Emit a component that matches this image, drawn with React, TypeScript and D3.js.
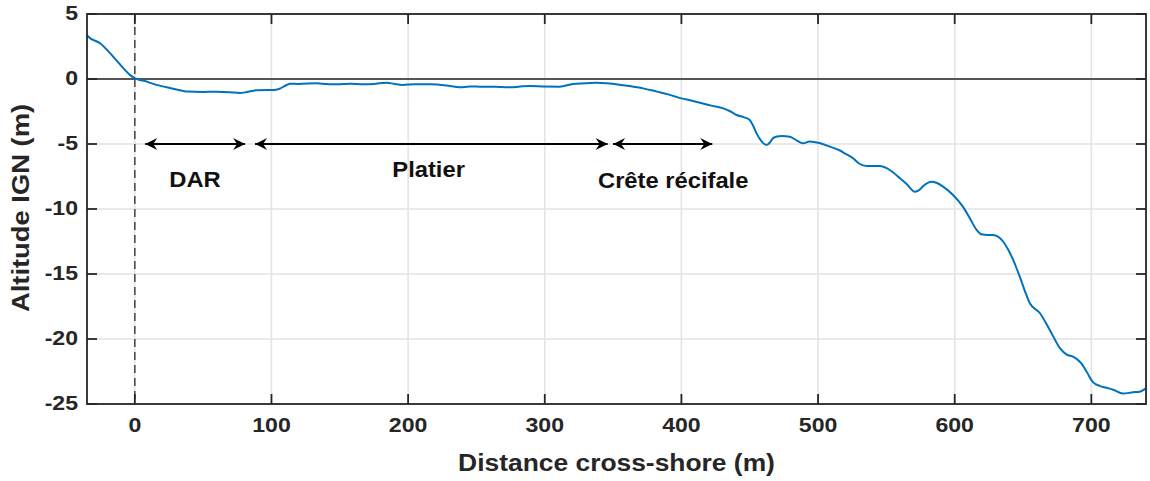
import * as d3 from "d3";

// profile: distance (m) and altitude (m)
const distance = [
  -35, -34, -25.4, -15.7, -8.3, -3.4, -1, 2, 8.8, 11.2, 23.4, 35.5, 38, 50, 60, 69.7, 77, 82, 86.8, 89, 101,
  106, 111, 113.6, 120, 133, 140, 148, 158, 167, 175, 184, 190, 196, 205, 216, 228, 238, 245, 252.6, 263,
  274.5, 282, 289, 300, 311, 320.6, 330, 338, 345, 352, 362, 372, 382, 391, 400, 407, 413.5, 422, 430.6,
  436, 440.4, 446, 450, 452.5, 455, 458, 462.3, 465, 467, 470, 473.3, 479.4, 484, 489, 494, 501, 508.6,
  516, 520, 525.7, 530, 535.5, 545, 552.5, 560, 565, 570.8, 574, 577, 583, 587, 591.5, 598.8, 606, 611,
  616, 619.6, 624, 628, 635.4, 639, 642.7, 647.6, 651, 655, 662.3, 669.6, 677, 682, 686.6, 692.7, 697,
  701, 706, 711, 716, 723, 730.5, 735.4, 740,
];
const altitude = [
  3.4, 3.25, 2.75, 1.7, 0.82, 0.3, 0.13, -0.02, -0.2, -0.3, -0.64, -0.92, -0.97, -1.0, -0.98, -1.02, -1.08,
  -1.0, -0.9, -0.86, -0.85, -0.75, -0.46, -0.36, -0.38, -0.33, -0.38, -0.41, -0.36, -0.41, -0.38, -0.28,
  -0.38, -0.46, -0.4, -0.41, -0.5, -0.64, -0.58, -0.59, -0.6, -0.64, -0.58, -0.54, -0.58, -0.59, -0.38,
  -0.33, -0.28, -0.32, -0.4, -0.54, -0.72, -0.97, -1.2, -1.49, -1.65, -1.82, -2.05, -2.26, -2.5, -2.77,
  -2.95, -3.15, -3.6, -4.18, -4.7, -5.08, -4.85, -4.56, -4.42, -4.38, -4.44, -4.7, -4.95, -4.8, -4.92,
  -5.2, -5.5, -5.75, -6.1, -6.5, -6.7, -6.7, -7.0, -7.64, -8.1, -8.67, -8.55, -8.23, -7.9, -8.0, -8.28,
  -8.92, -9.82, -10.7, -11.6, -11.95, -12.0, -12.0, -12.5, -13.1, -13.9, -15.2, -16.2, -17.25, -18.0,
  -19.3, -20.7, -21.2, -21.36, -21.87, -22.6, -23.3, -23.6, -23.75, -23.9, -24.2, -24.1, -24.05, -23.8,
];

const xTicks = [0, 100, 200, 300, 400, 500, 600, 700];
const yTicks = [5, 0, -5, -10, -15, -20, -25];

// zone annotations: start, end, label position
const zoneNames = ["DAR", "Platier", "Crête récifale"];
const zoneStart = [7.6, 88, 350];
const zoneEnd = [80.7, 346, 422.6];
const zoneLabelX = [44, 215, 394];
const zoneLabelY = [-7.85, -7.1, -7.9];
const arrowLevel = -5;

const W = 1150;
const H = 481;
const margin = { left: 87, top: 14, right: 4, bottom: 77 };
const font = "'Liberation Sans', Arial, sans-serif";
const ink = "#262626";

// the reference text is a bit wider than Liberation Sans, so stretch it
function Label(props: {
  x: number;
  y: number;
  size: number;
  anchor?: "start" | "middle" | "end";
  rotate?: number;
  sx?: number;
  fill?: string;
  children: React.ReactNode;
}) {
  const { x, y, size, anchor = "middle", rotate = 0, sx = 1.1, fill = ink } = props;
  return (
    <text
      transform={`translate(${x},${y}) rotate(${rotate}) scale(${sx},1)`}
      textAnchor={anchor}
      dominantBaseline="middle"
      fontSize={size}
      fontWeight="bold"
      fill={fill}
    >
      {props.children}
    </text>
  );
}

export default function App() {
  const x = d3.scaleLinear().domain([-35, 740]).range([margin.left, W - margin.right]);
  const y = d3.scaleLinear().domain([-25, 5]).range([H - margin.bottom, margin.top]);
  const [x0, x1] = x.range();
  const [yb, yt] = y.range();

  const pts = distance.map((d, i) => [d, altitude[i]] as [number, number]);
  const line = d3
    .line<[number, number]>()
    .x((d) => x(d[0]))
    .y((d) => y(d[1]))
    .curve(d3.curveMonotoneX);

  const tick = 10;

  return (
    <svg width={W} height={H} style={{ position: "absolute", left: 0, top: 0, background: "#fff" }} fontFamily={font}>
      <defs>
        <marker id="head" viewBox="-13 -7 14 14" markerWidth={14} markerHeight={14} refX={0} refY={0} orient="auto-start-reverse" markerUnits="userSpaceOnUse">
          <path d="M0,0 L-12,-6 L-8,0 L-12,6 Z" fill="#000" />
        </marker>
      </defs>

      {/* grid */}
      {xTicks.map((t) => (
        <line key={"gx" + t} x1={x(t)} x2={x(t)} y1={yt} y2={yb} stroke="#e3e3e3" strokeWidth={1.5} />
      ))}
      {yTicks.map((t) => (
        <line key={"gy" + t} x1={x0} x2={x1} y1={y(t)} y2={y(t)} stroke="#e3e3e3" strokeWidth={1.5} />
      ))}

      {/* zero line and shoreline */}
      <line x1={x0} x2={x1} y1={y(0)} y2={y(0)} stroke="#555" strokeWidth={1.8} />
      <line x1={x(0)} x2={x(0)} y1={yt} y2={yb} stroke="#444" strokeWidth={1.5} strokeDasharray="8 5" />

      {/* profile */}
      <path d={line(pts) ?? ""} fill="none" stroke="#0072BD" strokeWidth={2} />

      {/* zone arrows */}
      {zoneNames.map((n, i) => (
        <g key={n}>
          <line
            x1={x(zoneStart[i])}
            x2={x(zoneEnd[i])}
            y1={y(arrowLevel)}
            y2={y(arrowLevel)}
            stroke="#000"
            strokeWidth={2}
            markerStart="url(#head)"
            markerEnd="url(#head)"
          />
          <Label x={x(zoneLabelX[i])} y={y(zoneLabelY[i])} size={22} sx={1.08} fill="#111">
            {n}
          </Label>
        </g>
      ))}

      {/* box */}
      <rect x={x0} y={yt} width={x1 - x0} height={yb - yt} fill="none" stroke={ink} strokeWidth={1.8} />

      {/* ticks */}
      {xTicks.map((t) => (
        <g key={"tx" + t}>
          <line x1={x(t)} x2={x(t)} y1={yb} y2={yb - tick} stroke={ink} strokeWidth={1.8} />
          <line x1={x(t)} x2={x(t)} y1={yt} y2={yt + tick} stroke={ink} strokeWidth={1.8} />
          <Label x={x(t)} y={yb + 22} size={21}>
            {t}
          </Label>
        </g>
      ))}
      {yTicks.map((t) => (
        <g key={"ty" + t}>
          <line x1={x0} x2={x0 + tick} y1={y(t)} y2={y(t)} stroke={ink} strokeWidth={1.8} />
          <line x1={x1} x2={x1 - tick} y1={y(t)} y2={y(t)} stroke={ink} strokeWidth={1.8} />
          <Label x={x0 - 9} y={y(t)} size={21} anchor="end">
            {t}
          </Label>
        </g>
      ))}

      {/* axis titles */}
      <Label x={(x0 + x1) / 2} y={465} size={24} sx={1.1}>
        Distance cross-shore (m)
      </Label>
      <Label x={23} y={208} size={24} rotate={-90} sx={1.14}>
        Altitude IGN (m)
      </Label>
    </svg>
  );
}
